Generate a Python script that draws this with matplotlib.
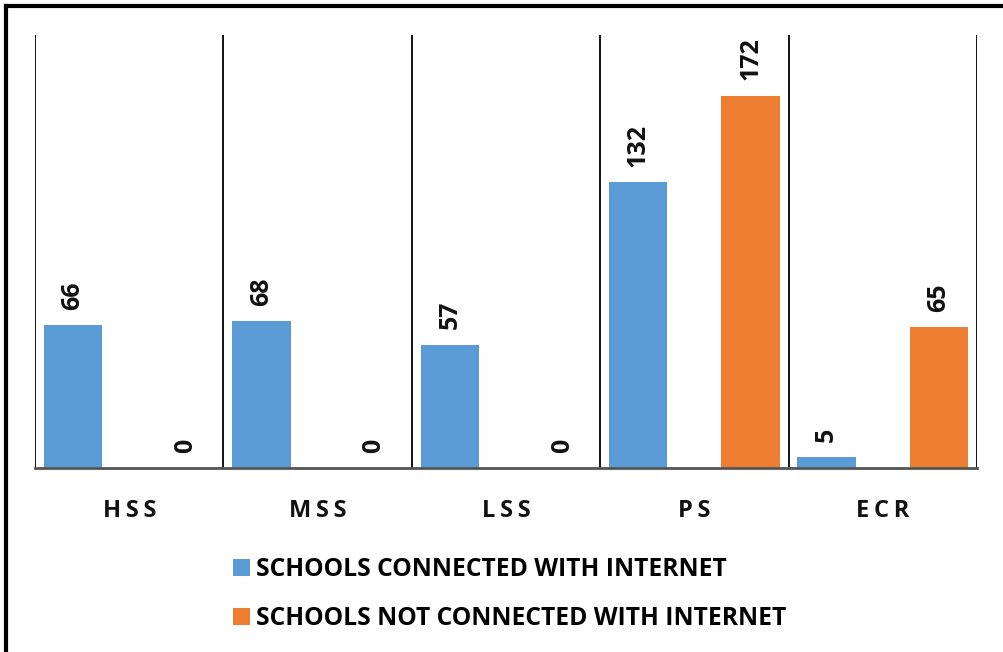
import numpy as np
import matplotlib.pyplot as plt
from matplotlib.lines import Line2D

categories = ["HSS", "MSS", "LSS", "PS", "ECR"]
connected = [66, 68, 57, 132, 5]
not_connected = [0, 0, 0, 172, 65]
series_names = ["SCHOOLS CONNECTED WITH INTERNET", "SCHOOLS NOT CONNECTED WITH INTERNET"]

blue = "#5b9bd5"
orange = "#ed7d31"

plt.rcParams['font.family'] = ['Open Sans', 'DejaVu Sans']

W, H = 1004, 652
fig = plt.figure(figsize=(W / 100, H / 100), dpi=100)
ax = fig.add_axes([35 / W, 1 - 468 / H, (977 - 35) / W, (468 - 35) / H])

x = np.arange(len(categories))
bw = 0.31
b1 = ax.bar(x + 0.202, connected, bw, color=blue, label=series_names[0])
b2 = ax.bar(x + 0.798, not_connected, bw, color=orange, label=series_names[1])

for bars, vals in [(b1, connected), (b2, not_connected)]:
    for r, v in zip(bars, vals):
        ax.annotate(str(v), (r.get_x() + r.get_width() / 2, v),
                    xytext=(0, 11), textcoords="offset points",
                    rotation=90, ha="center", va="bottom",
                    fontsize=18, fontweight="bold", color="#111111")

for xs in range(len(categories) + 1):
    ax.axvline(xs, color="black", lw=1.3, zorder=0)

ax.set_xlim(0, len(categories))
ax.set_ylim(0, 200)
for s in ["top", "left", "right"]:
    ax.spines[s].set_visible(False)
ax.spines["bottom"].set_color("#555555")
ax.spines["bottom"].set_linewidth(2)
ax.set_yticks([])
ax.set_xticks(x + 0.5)
ax.set_xticklabels(["\u2009".join(c) for c in categories], fontsize=17,
                   fontweight="bold", color="#111111")
ax.tick_params(axis="x", length=0, pad=22)

fig.legend(handles=[b1, b2], loc="upper left",
           bbox_to_anchor=(211 / W, 1 - 535 / H), frameon=False,
           prop={"size": 17.7, "weight": "bold"}, handlelength=0.7,
           handleheight=0.7, handletextpad=0.25, labelspacing=0.98)

# outer frame (left and top edges visible)
fig.add_artist(Line2D([6 / W, 6 / W], [0, 1 - 6 / H], transform=fig.transFigure,
                      color="black", lw=3))
fig.add_artist(Line2D([6 / W, 1], [1 - 6 / H, 1 - 6 / H], transform=fig.transFigure,
                      color="black", lw=3))

fig.savefig("out.png", dpi=100)
